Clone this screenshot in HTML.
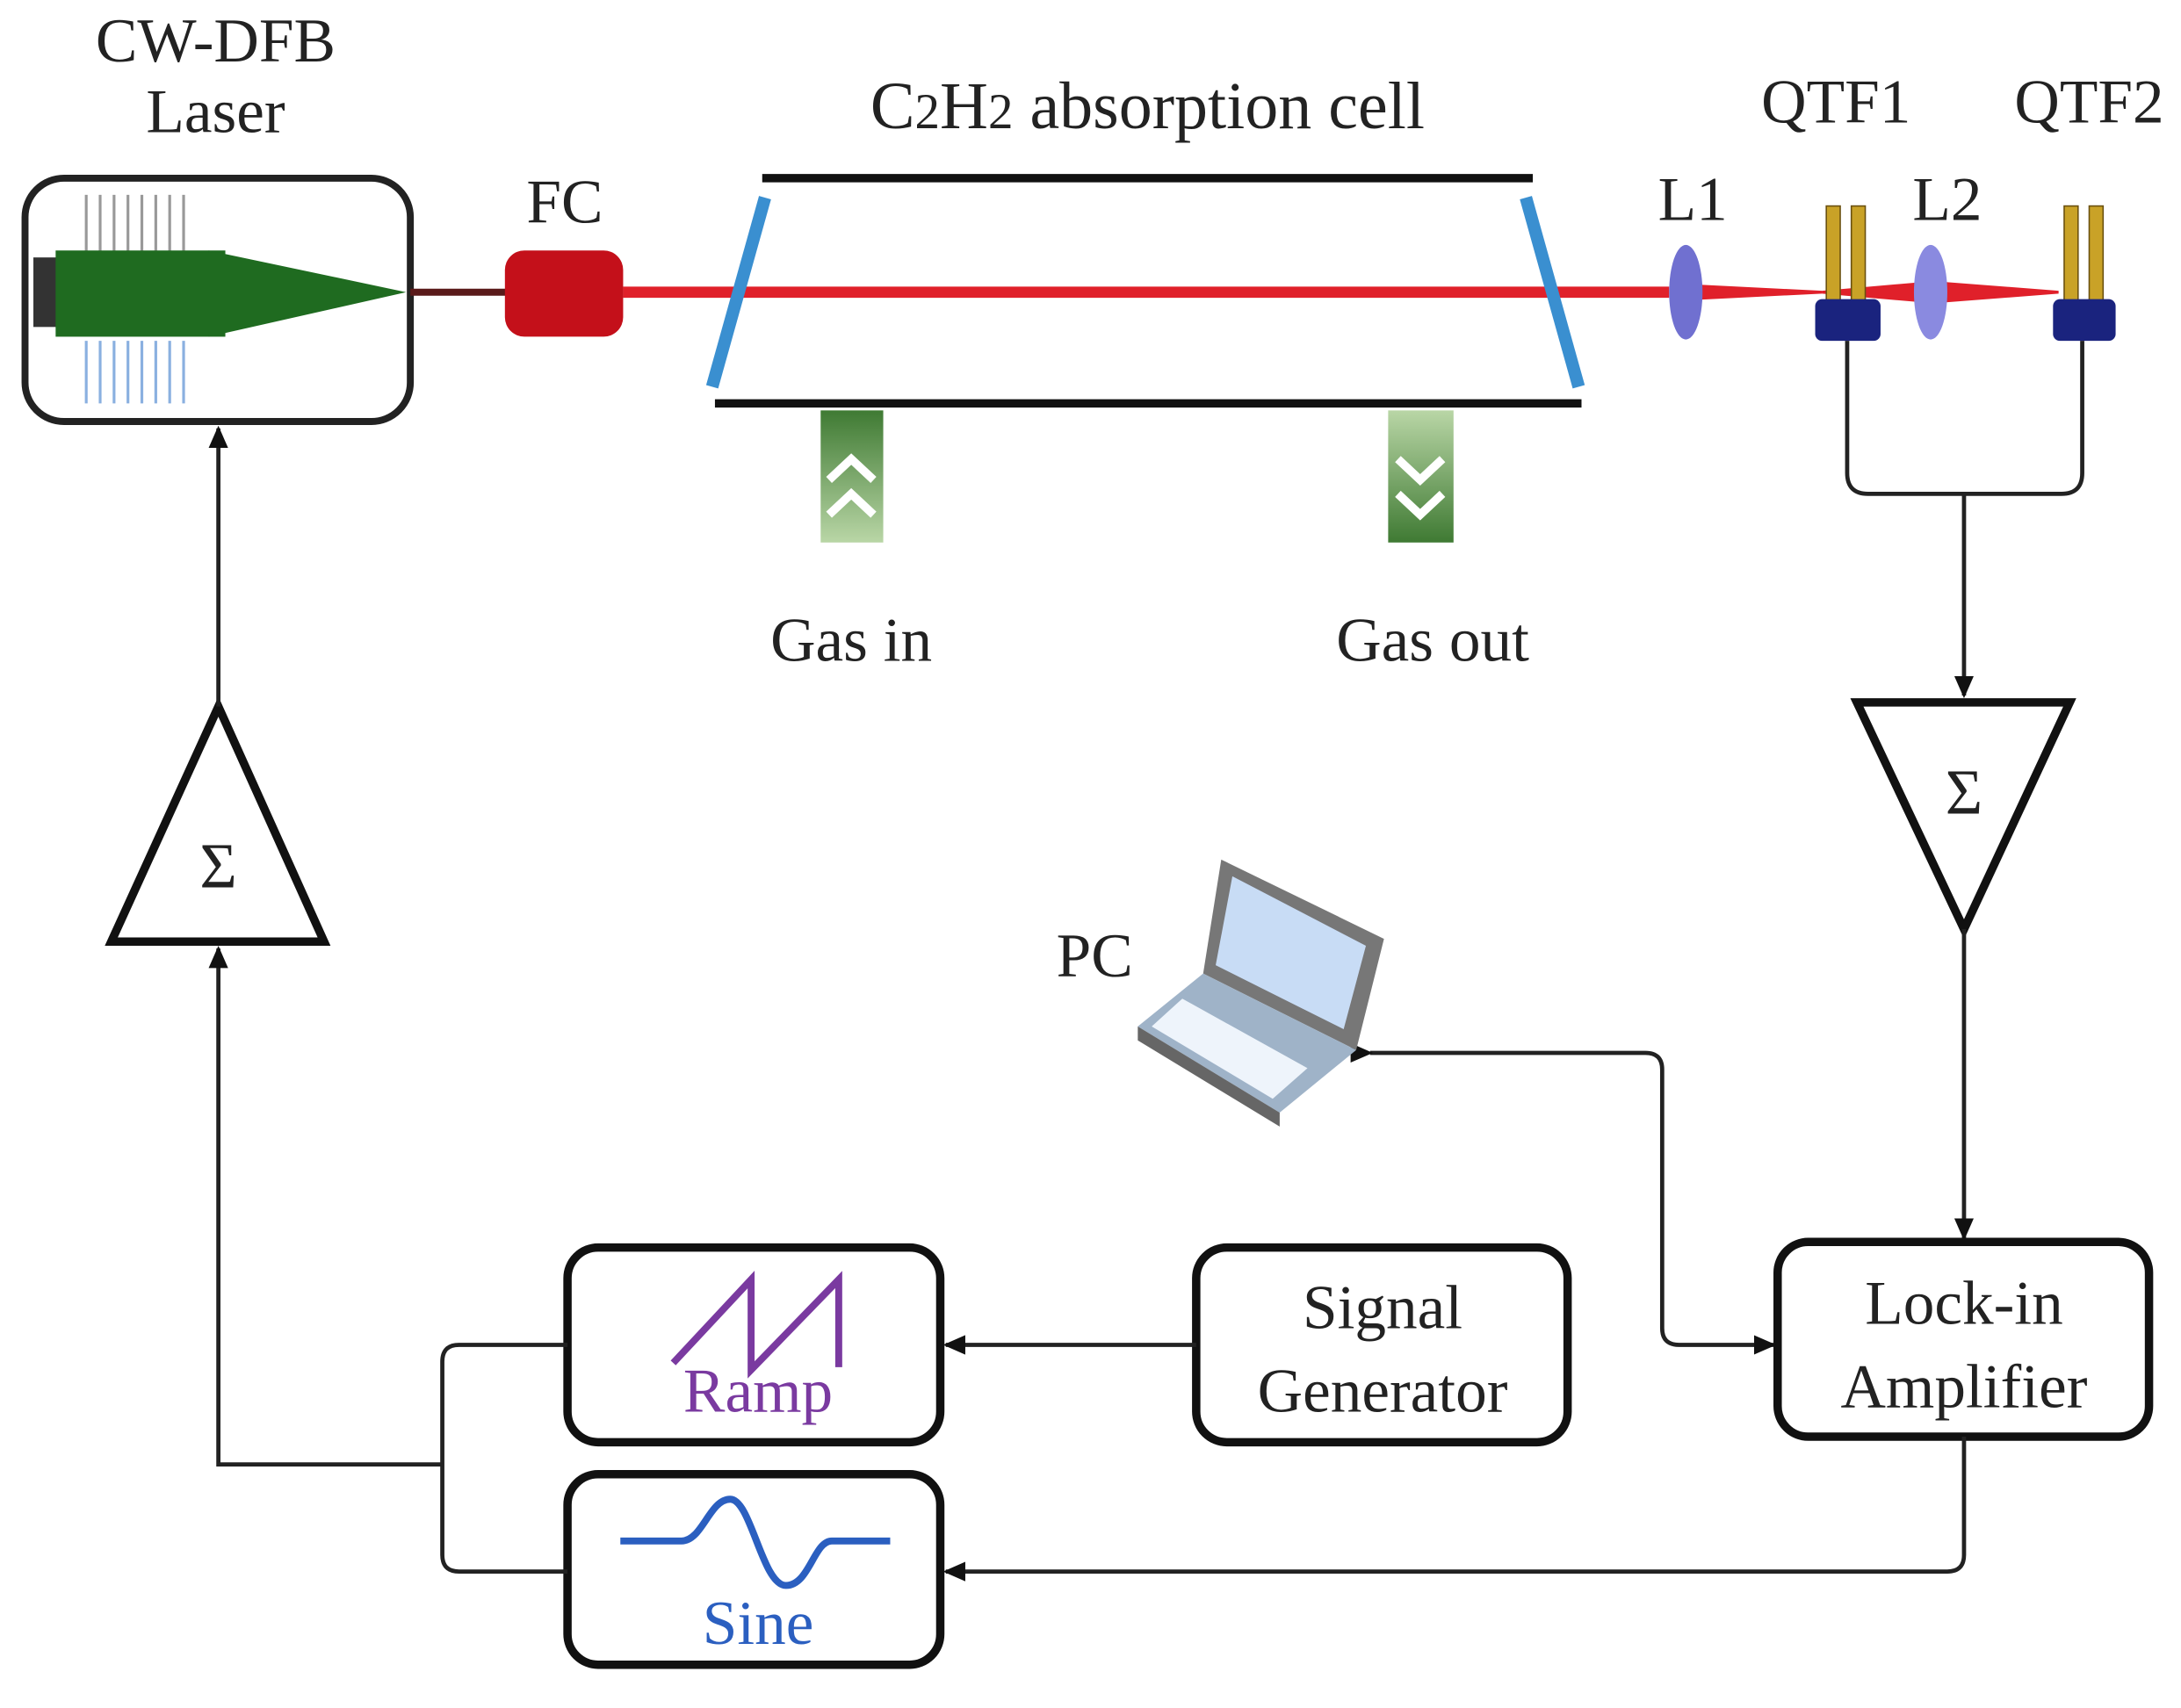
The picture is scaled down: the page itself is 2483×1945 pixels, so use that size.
<!DOCTYPE html>
<html><head><meta charset="utf-8"><style>html,body{margin:0;padding:0;background:#fff}svg{display:block}</style></head>
<body>
<svg width="2483" height="1945" viewBox="0 0 1568 1228" xmlns="http://www.w3.org/2000/svg" font-family="'Liberation Serif',serif" fill="#222">
<defs>
<marker id="ar2" markerWidth="16" markerHeight="16" refX="14" refY="8" orient="auto" markerUnits="userSpaceOnUse"><path d="M0,1 L16,8 L0,15 Z" fill="#111"/></marker>
<linearGradient id="gg" x1="0" x2="0" y1="0" y2="1"><stop offset="0" stop-color="#3f7a33"/><stop offset="1" stop-color="#b9d6a6"/></linearGradient>
<linearGradient id="gg2" x1="0" x2="0" y1="0" y2="1"><stop offset="0" stop-color="#b9d6a6"/><stop offset="1" stop-color="#3f7a33"/></linearGradient>
</defs>
<g font-size="45" text-anchor="middle">
<text x="155" y="44">CW-DFB</text><text x="155" y="95">Laser</text>
<text x="406" y="160">FC</text>
<text x="825" y="92" font-size="48">C<tspan font-size="36">2</tspan>H<tspan font-size="36">2</tspan> absorption cell</text>
<text x="1217" y="158">L1</text><text x="1400" y="158">L2</text>
<text x="1320" y="88">QTF1</text><text x="1502" y="88">QTF2</text>
<text x="612" y="475">Gas in</text><text x="1030" y="475">Gas out</text>
<text x="787" y="702">PC</text>
<text x="994" y="955">Signal</text><text x="994" y="1015">Generator</text>
<text x="1412" y="952">Lock-in</text><text x="1412" y="1012">Amplifier</text>
<text x="545" y="1015" fill="#7a3aa0">Ramp</text>
<text x="545" y="1182" fill="#2b5fc0">Sine</text>
<text x="157" y="638" font-size="46">Σ</text><text x="1412" y="585" font-size="46">Σ</text>
</g>
<rect x="18" y="128" width="277" height="175" rx="28" fill="none" stroke="#222" stroke-width="5"/>
<g stroke="#999" stroke-width="2"><path d="M62 140V182M72 140V182M82 140V182M92 140V182M102 140V182M112 140V182M122 140V182M132 140V182"/></g>
<g stroke="#8ab0e0" stroke-width="2"><path d="M62 245V290M72 245V290M82 245V290M92 245V290M102 245V290M112 245V290M122 245V290M132 245V290"/></g>
<rect x="24" y="185" width="18" height="50" fill="#333"/>
<rect x="40" y="180" width="122" height="62" fill="#1f6b20"/>
<polygon points="150,180 292,210 150,242" fill="#1f6b20"/>
<line x1="295" y1="210" x2="365" y2="210" stroke="#5a1a1a" stroke-width="5"/>
<line x1="448" y1="210" x2="1200" y2="210" stroke="#e0202a" stroke-width="8"/>
<rect x="363" y="180" width="85" height="62" rx="14" fill="#c4101a"/>
<line x1="548" y1="128" x2="1102" y2="128" stroke="#111" stroke-width="6"/>
<line x1="514" y1="290" x2="1137" y2="290" stroke="#111" stroke-width="6"/>
<line x1="550" y1="142" x2="512" y2="278" stroke="#3a8fd0" stroke-width="9"/>
<line x1="1097" y1="142" x2="1135" y2="278" stroke="#3a8fd0" stroke-width="9"/>
<rect x="590" y="295" width="45" height="95" fill="url(#gg)"/>
<path d="M596 345L612 330L628 345M596 370L612 355L628 370" fill="none" stroke="#fff" stroke-width="6"/>
<rect x="998" y="295" width="47" height="95" fill="url(#gg2)"/>
<path d="M1005 330L1021 345L1037 330M1005 355L1021 370L1037 355" fill="none" stroke="#fff" stroke-width="6"/>
<polygon points="1210,204 1310,209 1310,211 1210,216" fill="#e0202a"/>
<polygon points="1310,209 1390,202 1390,218 1310,211" fill="#e0202a"/>
<polygon points="1390,202 1480,209 1480,211 1390,218" fill="#e0202a"/>
<ellipse cx="1212" cy="210" rx="12" ry="34" fill="#7070d0"/>
<ellipse cx="1388" cy="210" rx="12" ry="34" fill="#8a8ae0"/>
<rect x="1313" y="148" width="10" height="70" fill="#c9a227" stroke="#6a5010" stroke-width="1"/><rect x="1331" y="148" width="10" height="70" fill="#c9a227" stroke="#6a5010" stroke-width="1"/>
<rect x="1305" y="215" width="47" height="30" rx="5" fill="#1a237e"/>
<rect x="1484" y="148" width="10" height="70" fill="#c9a227" stroke="#6a5010" stroke-width="1"/><rect x="1502" y="148" width="10" height="70" fill="#c9a227" stroke="#6a5010" stroke-width="1"/>
<rect x="1476" y="215" width="45" height="30" rx="5" fill="#1a237e"/>
<path d="M1328 245V340Q1328 355 1343 355H1482Q1497 355 1497 340V245" fill="none" stroke="#222" stroke-width="3"/>
<line x1="1412" y1="355" x2="1412" y2="500" stroke="#222" stroke-width="3" marker-end="url(#ar2)"/>
<polygon points="1335,505 1488,505 1412,668" fill="none" stroke="#111" stroke-width="6"/>
<polygon points="80,677 233,677 157,508" fill="none" stroke="#111" stroke-width="6"/>
<line x1="1412" y1="668" x2="1412" y2="890" stroke="#222" stroke-width="3" marker-end="url(#ar2)"/>
<line x1="157" y1="508" x2="157" y2="308" stroke="#222" stroke-width="3" marker-end="url(#ar2)"/>
<path d="M318 1053H157V682" fill="none" stroke="#222" stroke-width="3" marker-end="url(#ar2)"/>
<rect x="408" y="897" width="268" height="140" rx="22" fill="none" stroke="#111" stroke-width="6"/>
<rect x="408" y="1060" width="268" height="137" rx="22" fill="none" stroke="#111" stroke-width="6"/>
<rect x="860" y="897" width="267" height="140" rx="22" fill="none" stroke="#111" stroke-width="6"/>
<rect x="1278" y="893" width="267" height="140" rx="22" fill="none" stroke="#111" stroke-width="6"/>
<path d="M484 980L540 920V985L603 920V983" fill="none" stroke="#7a3aa0" stroke-width="5"/>
<path d="M446 1108H490C505 1108 510 1078 525 1078S548 1140 565 1140S585 1108 598 1108H640" fill="none" stroke="#2b5fc0" stroke-width="5"/>
<line x1="860" y1="967" x2="680" y2="967" stroke="#222" stroke-width="3" marker-end="url(#ar2)"/>
<path d="M1412 1033V1118Q1412 1130 1400 1130H680" fill="none" stroke="#222" stroke-width="3" marker-end="url(#ar2)"/>
<path d="M408 967H330Q318 967 318 979V1118Q318 1130 330 1130H408" fill="none" stroke="#222" stroke-width="3"/>
<path d="M985 757H1183Q1195 757 1195 769V955Q1195 967 1207 967H1275" fill="none" stroke="#222" stroke-width="3" marker-start="url(#ar2)" marker-end="url(#ar2)" />
<polygon points="878,618 995,675 975,755 865,700" fill="#777"/>
<polygon points="886,630 982,680 966,740 874,694" fill="#c8dcf5"/>
<polygon points="865,700 975,755 920,800 818,738" fill="#9fb3c8"/>
<polygon points="818,738 920,800 920,810 818,748" fill="#666"/>
<polygon points="850,718 940,768 915,790 828,738" fill="#eef4fb"/>
</svg>
</body></html>
